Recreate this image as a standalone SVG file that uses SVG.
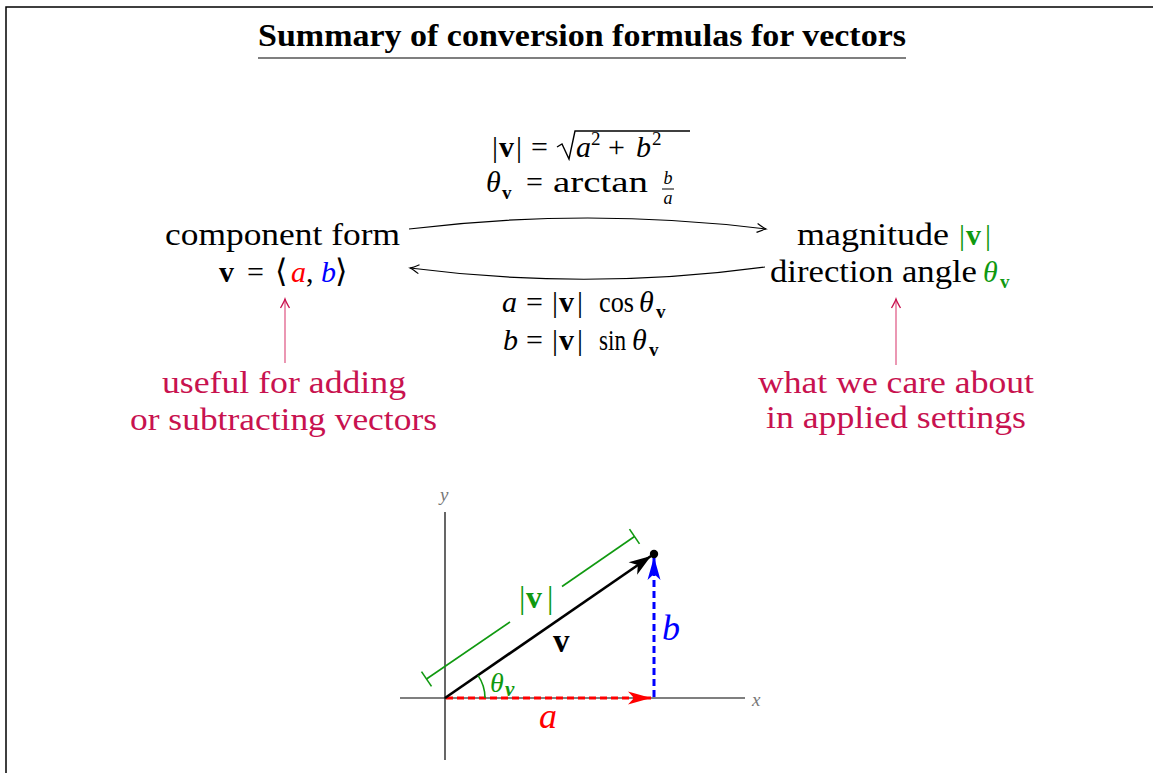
<svg xmlns="http://www.w3.org/2000/svg" width="1153" height="773" viewBox="0 0 1153 773">
<style>
.t{font-family:"Liberation Serif","DejaVu Serif",serif;font-size:31px;fill:#000}
.m{font-family:"Liberation Serif","DejaVu Serif",serif;font-size:30px;fill:#000}
.i{font-style:italic}
.b{font-weight:bold}
.p{fill:#c8124f}
.g{fill:#109910}
.sub{font-size:19px}
.ax{font-family:"Liberation Serif",serif;font-style:italic;font-size:19px;fill:#777}
</style>
<defs>
<marker id="open" markerWidth="14" markerHeight="12" refX="0" refY="0" viewBox="-10 -6 12 12" orient="auto" markerUnits="userSpaceOnUse">
<path d="M-9,-4.5 Q-3,-1 0,0 Q-3,1 -9,4.5" fill="none" stroke="#000" stroke-width="1.2"/>
</marker>
<marker id="pink" markerWidth="14" markerHeight="12" refX="0" refY="0" viewBox="-10 -6 12 12" orient="auto" markerUnits="userSpaceOnUse">
<path d="M-9,-4.5 Q-3,-1 0,0 Q-3,1 -9,4.5" fill="none" stroke="#c8124f" stroke-width="1.3"/>
</marker>
<marker id="stealthK" markerWidth="26" markerHeight="16" refX="0" refY="0" viewBox="-24 -8 26 16" orient="auto" markerUnits="userSpaceOnUse">
<path d="M0,0 L-22,-7.5 L-16,0 L-22,7.5 Z" fill="#000"/>
</marker>
<marker id="stealthB" markerWidth="26" markerHeight="16" refX="0" refY="0" viewBox="-24 -8 26 16" orient="auto" markerUnits="userSpaceOnUse">
<path d="M0,0 L-23,-6.5 L-17,0 L-23,6.5 Z" fill="#0000ff"/>
</marker>
<marker id="stealthR" markerWidth="26" markerHeight="16" refX="0" refY="0" viewBox="-24 -8 26 16" orient="auto" markerUnits="userSpaceOnUse">
<path d="M0,0 L-23,-6.5 L-17,0 L-23,6.5 Z" fill="#ff0000"/>
</marker>
</defs>
<rect width="1153" height="773" fill="#fff"/>
<path d="M6,773 L6,7 L1153,7" fill="none" stroke="#000" stroke-width="1.5"/>

<g id="title">
<text x="258" y="46" class="t b" style="font-size:31px" textLength="648" lengthAdjust="spacingAndGlyphs">Summary of conversion formulas for vectors</text>
<line x1="258" y1="58" x2="906" y2="58" stroke="#000" stroke-width="1.2"/>
</g>

<g id="connectors" fill="none">
<path d="M409,229 Q588,207 766,229" stroke="#000" stroke-width="1.2" marker-end="url(#open)"/>
<path d="M765,267 Q588,291 410,268" stroke="#000" stroke-width="1.2" marker-end="url(#open)"/>
<line x1="285" y1="363" x2="285" y2="299" stroke="#e0608a" stroke-width="1.3" marker-end="url(#pink)"/>
<line x1="896" y1="365" x2="896" y2="299" stroke="#e0608a" stroke-width="1.3" marker-end="url(#pink)"/>
</g>

<g id="formula-top">
<text class="m" y="157"><tspan x="492">|</tspan><tspan x="499" class="b">v</tspan><tspan x="516">|</tspan><tspan x="531">=</tspan><tspan x="576" class="i">a</tspan><tspan x="591" y="145" class="sub">2</tspan><tspan x="608" y="157">+</tspan><tspan x="636" class="i">b</tspan><tspan x="652" y="145" class="sub">2</tspan></text>
<path d="M557,147 L562,144 L569,159 L575,131 L690,131" fill="none" stroke="#000" stroke-width="1.4"/>
<text class="m" y="192"><tspan x="486" class="i">θ</tspan><tspan x="502" y="199" class="sub b">v</tspan><tspan x="526" y="192">=</tspan></text>
<text class="m" x="553" y="192" textLength="95" lengthAdjust="spacingAndGlyphs">arctan</text>
<text class="m i" x="668" y="184" style="font-size:18px" text-anchor="middle">b</text>
<line x1="662" y1="189" x2="674" y2="189" stroke="#000" stroke-width="1"/>
<text class="m i" x="668" y="204" style="font-size:18px" text-anchor="middle">a</text>
</g>

<g id="formula-bottom">
<text class="m" y="312"><tspan x="502" class="i">a</tspan><tspan x="526">=</tspan><tspan x="552">|</tspan><tspan x="559" class="b">v</tspan><tspan x="577">|</tspan></text>
<text class="m" x="599" y="312" textLength="35" lengthAdjust="spacingAndGlyphs">cos</text>
<text class="m" y="312"><tspan x="639" class="i">θ</tspan><tspan x="656" y="318" class="sub b">v</tspan></text>
<text class="m" y="350"><tspan x="503" class="i">b</tspan><tspan x="526">=</tspan><tspan x="552">|</tspan><tspan x="559" class="b">v</tspan><tspan x="577">|</tspan></text>
<text class="m" x="599" y="350" textLength="27" lengthAdjust="spacingAndGlyphs">sin</text>
<text class="m" y="350"><tspan x="632" class="i">θ</tspan><tspan x="649" y="356" class="sub b">v</tspan></text>
</g>

<g id="node-component">
<text class="t" x="165" y="245" textLength="235" lengthAdjust="spacingAndGlyphs">component form</text>
<text class="m" y="282"><tspan x="219" class="b">v</tspan><tspan x="247">=</tspan><tspan x="275" style="font-family:'DejaVu Serif','DejaVu Sans',sans-serif;font-size:32px">⟨</tspan><tspan x="291" class="i" style="fill:#ff0000">a</tspan><tspan x="306">,</tspan><tspan x="321" class="i" style="fill:#0000ff">b</tspan><tspan x="335" style="font-family:'DejaVu Serif','DejaVu Sans',sans-serif;font-size:32px">⟩</tspan></text>
</g>

<g id="node-magnitude">
<text class="t" x="797" y="245" textLength="152" lengthAdjust="spacingAndGlyphs">magnitude</text>
<text class="m g" y="245"><tspan x="959">|</tspan><tspan x="966" class="b">v</tspan><tspan x="985">|</tspan></text>
<text class="t" x="770" y="282" textLength="207" lengthAdjust="spacingAndGlyphs">direction angle</text>
<text class="m g" y="282"><tspan x="983" class="i">θ</tspan><tspan x="1000" y="288" class="sub b">v</tspan></text>
</g>

<g id="note-left">
<text class="t p" x="162" y="393" textLength="244" lengthAdjust="spacingAndGlyphs">useful for adding</text>
<text class="t p" x="130" y="430" textLength="307" lengthAdjust="spacingAndGlyphs">or subtracting vectors</text>
</g>

<g id="note-right">
<text class="t p" x="758" y="393" textLength="276" lengthAdjust="spacingAndGlyphs">what we care about</text>
<text class="t p" x="766" y="428" textLength="260" lengthAdjust="spacingAndGlyphs">in applied settings</text>
</g>

<g id="plot">
<line x1="445" y1="512" x2="445" y2="760" stroke="#000" stroke-width="1.2"/>
<line x1="400" y1="698" x2="745" y2="698" stroke="#000" stroke-width="1.2"/>
<text class="ax" x="440" y="501">y</text>
<text class="ax" x="752" y="706">x</text>
<line x1="446" y1="698" x2="651" y2="698" stroke="#ff0000" stroke-width="3" stroke-dasharray="7,4" marker-end="url(#stealthR)"/>
<line x1="654" y1="697" x2="654" y2="557" stroke="#0000ff" stroke-width="3" stroke-dasharray="7,4" marker-end="url(#stealthB)"/>
<line x1="445" y1="698" x2="651" y2="556" stroke="#000" stroke-width="2.6" marker-end="url(#stealthK)"/>
<circle cx="654" cy="554" r="4.2" fill="#000"/>
<g stroke="#109910" stroke-width="1.6" fill="none">
<line x1="426.5" y1="679" x2="510" y2="622"/>
<line x1="562" y1="586.5" x2="634.5" y2="536.5"/>
<line x1="421.5" y1="671.6" x2="431.5" y2="686.4"/>
<line x1="629.5" y1="529.1" x2="639.5" y2="543.9"/>
<path d="M485,698 A40,40 0 0 0 478,675.4"/>
</g>
<text class="m g" y="608" style="font-size:32px"><tspan x="519">|</tspan><tspan x="526" class="b">v</tspan><tspan x="547">|</tspan></text>
<text class="m b" x="553" y="652" style="font-size:33px">v</text>
<text class="m i" x="662" y="640" style="font-size:36px;fill:#0000ff">b</text>
<text class="m i" x="539" y="728" style="font-size:36px;fill:#ff0000">a</text>
<text class="m i g" x="490" y="692" style="font-size:28px">θ</text>
<text class="m i b g" x="505" y="696" style="font-size:21px">v</text>
</g>
</svg>
